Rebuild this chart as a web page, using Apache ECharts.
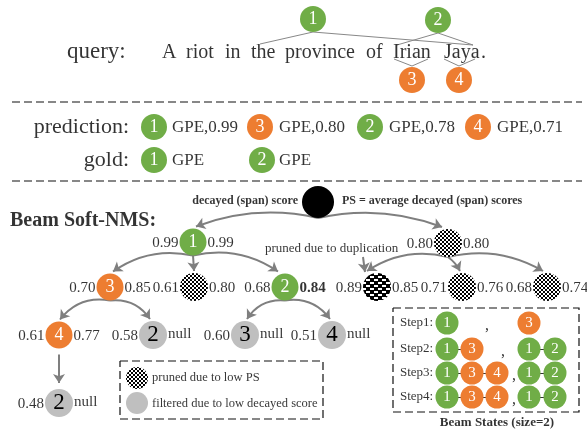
<!DOCTYPE html>
<html><head><meta charset="utf-8">
<script src="https://cdn.jsdelivr.net/npm/echarts@6/dist/echarts.min.js"></script>
<style>html,body{margin:0;padding:0;background:#fff}#c{width:587px;height:434px}</style>
</head><body><div id="c"></div>
<script>
// ---------------- DATA ----------------
const queryWords = ['A', 'riot', 'in', 'the', 'province', 'of', 'Irian', 'Jaya', '.'];
const spanIds = ['1', '2', '3', '4'];
const predIds = ['1', '3', '2', '4'];
const predType = 'GPE';
const predScores = [0.99, 0.80, 0.78, 0.71];
const goldIds = ['1', '2'];
const goldType = 'GPE';
// Beam Soft-NMS search tree
const treeIds   = ['', '1', '', '3', '', '2', '', '', '', '4', '2', '3', '4', '2'];
const treeKinds = ['root', 'span', 'pruned', 'span', 'pruned', 'span', 'dup', 'pruned', 'pruned', 'span', 'filtered', 'filtered', 'filtered', 'filtered'];
const treeLeft  = [null, 0.99, 0.80, 0.70, 0.61, 0.68, 0.89, 0.71, 0.68, 0.61, 0.58, 0.60, 0.51, 0.48];
const treeRight = [null, 0.99, 0.80, 0.85, 0.80, 0.84, 0.85, 0.76, 0.74, 0.77, 'null', 'null', 'null', 'null'];
const treeParent = [-1, 0, 0, 1, 1, 1, 2, 2, 2, 3, 3, 5, 5, 9];
const boldRight = [5];
const beamSteps = [
  [['1'], ['3']],
  [['1', '3'], ['1', '2']],
  [['1', '3', '4'], ['1', '2']],
  [['1', '3', '4'], ['1', '2']]
];

// ---------------- LAYOUT ----------------
const FONT = "'Liberation Serif','Times New Roman',serif";
const GREEN = '#70AD47', ORANGE = '#ED7D31', GREY = '#BFBFBF', LINK = '#7F7F7F';
const wordX = [162, 186, 225, 251, 285, 366, 393, 444, 481];
const spanPos = [[313, 19], [438, 20], [412, 80], [459, 80]];
const spanLinks = [
  [[260, 44], [313, 32], [473, 45]],
  [[397, 45], [438, 33], [473, 45]],
  [[394, 59], [412, 66], [428, 59]],
  [[444, 59], [459, 66], [475, 59]]
];
const predCircleX = [154, 260, 370, 478], predTextX = [172, 279, 389, 497];
const goldCircleX = [154, 262], goldTextX = [172, 279];
const treePos = [[318, 202], [193, 242], [448, 243], [110, 287], [194, 287], [285, 287], [377, 287], [462, 287], [547, 287], [59, 335], [153, 335], [245, 335], [332, 335], [59, 403]];
const treeCurve = [0, -0.15, 0.15, -0.22, 0, 0.22, -0.22, 0.12, 0.2, -0.3, 0.3, -0.3, 0.3, 0];
const treeEndDx = [0, 3, -6, 3, 0, -7, -10, -2, -4, 1, -3, 2, -2, 0];
const beamRowY = [323, 349, 373, 397];
const beam1X = [447, 472, 497], beam2X = [529, 555], commaX = [487, 503, 514, 514];

const spanColor = id => (id === '1' || id === '2') ? GREEN : ORANGE;

// pattern fill; the symbol path is drawn in a unit space scaled by d/2, so undo that scale
function makePattern(kind, d) {
  const c = document.createElement('canvas');
  const g = c.getContext('2d');
  if (kind === 'checker') {
    c.width = 4; c.height = 4;
    g.fillStyle = '#fff'; g.fillRect(0, 0, 4, 4);
    g.fillStyle = '#000'; g.fillRect(0, 0, 2, 2); g.fillRect(2, 2, 2, 2);
  } else {
    c.width = 8; c.height = 6;
    g.fillStyle = '#000'; g.fillRect(0, 0, 8, 6);
    g.fillStyle = '#fff'; g.fillRect(1, 1, 4, 2); g.fillRect(5, 4, 3, 2); g.fillRect(0, 4, 1, 2);
  }
  return { image: c, repeat: 'repeat', scaleX: 2 / d, scaleY: 2 / d };
}

const nodes = [], texts = [], edges = [], rules = [], thin = [], beamLinks = [];
function circle(x, y, d, color, txt, txtColor, fs) {
  nodes.push({ value: [x, y], symbolSize: d, itemStyle: { color: color, opacity: 1 },
    label: { show: !!txt, formatter: txt || '', color: txtColor || '#fff', fontSize: fs || 17 } });
}
function text(x, y, s, align, fs, bold) {
  texts.push({ value: [x, y], label: { formatter: s, align: align, fontSize: fs, fontWeight: bold ? 'bold' : 'normal' } });
}

// top: query
text(67, 52, 'query:', 'left', 23);
queryWords.forEach((w, i) => text(wordX[i], 53, w, 'left', 20));
spanLinks.forEach(p => thin.push({ coords: p }));
spanIds.forEach((id, i) => circle(spanPos[i][0], spanPos[i][1], 26, spanColor(id), id, '#fff', 18));

// separators
rules.push({ coords: [[12, 102], [582, 102]] });
rules.push({ coords: [[12, 181], [582, 181]] });

// prediction / gold
text(129, 127, 'prediction:', 'right', 22);
text(129, 160, 'gold:', 'right', 22);
predIds.forEach((id, i) => {
  circle(predCircleX[i], 127, 26, spanColor(id), id, '#fff', 18);
  text(predTextX[i], 128, predType + ',' + predScores[i].toFixed(2), 'left', 17);
});
goldIds.forEach((id, i) => {
  circle(goldCircleX[i], 160, 26, spanColor(id), id, '#fff', 18);
  text(goldTextX[i], 161, goldType, 'left', 17);
});

// Beam Soft-NMS tree
text(10, 221, 'Beam Soft-NMS:', 'left', 20, true);
text(298, 201, 'decayed (span) score', 'right', 12, true);
text(342, 201, 'PS = average decayed (span) scores', 'left', 12, true);
text(265, 249, 'pruned due to duplication', 'left', 13);
edges.push({ coords: [[363, 257], [365, 272]], lineStyle: { curveness: 0 } });

const diam = k => k === 'root' ? 32 : (k === 'span' ? 27 : 28);
treeKinds.forEach((k, i) => {
  const [x, y] = treePos[i];
  const d = diam(k), r = d / 2;
  if (treeParent[i] >= 0) {
    const p = treeParent[i];
    const [px, py] = treePos[p];
    const pr = diam(treeKinds[p]) / 2;
    const straight = treeCurve[i] === 0;
    const endY = straight && k === 'filtered' ? y - r - 6 : y - r - 2;
    edges.push({ coords: [[px, py + pr + (straight && k === 'filtered' ? 6 : 0)], [x + treeEndDx[i], endY]], lineStyle: { curveness: treeCurve[i] } });
  }
  let color, tc = '#fff', fs = 18;
  if (k === 'root') color = '#000';
  else if (k === 'pruned') color = makePattern('checker', d);
  else if (k === 'dup') color = makePattern('dup', d);
  else if (k === 'filtered') { color = GREY; tc = '#000'; fs = 23; }
  else color = spanColor(treeIds[i]);
  circle(x, y, d, color, (k === 'span' || k === 'filtered') ? treeIds[i] : '', tc, fs);
  if (treeLeft[i] !== null) text(x - r - 1, y + 1, treeLeft[i].toFixed(2), 'right', 15);
  if (treeRight[i] !== null) {
    const s = typeof treeRight[i] === 'number' ? treeRight[i].toFixed(2) : treeRight[i];
    text(x + r + 1, y + (typeof treeRight[i] === 'number' ? 1 : -1), s, 'left', 15, boldRight.includes(i));
  }
});

// legend box
rules.push({ coords: [[120, 361], [323, 361], [323, 419], [120, 419], [120, 361]] });
circle(137, 378, 22, makePattern('checker', 22), '');
text(152, 378, 'pruned due to low PS', 'left', 12.5);
circle(137, 403, 22, GREY, '');
text(152, 404, 'filtered due to low decayed score', 'left', 12.5);

// beam states box
rules.push({ coords: [[393, 308], [579, 308], [579, 412], [393, 412], [393, 308]] });
beamSteps.forEach((step, si) => {
  const y = beamRowY[si];
  text(400, y, 'Step' + (si + 1) + ':', 'left', 13);
  [beam1X, beam2X].forEach((xs, bi) => {
    const beam = step[bi];
    for (let j = 1; j < beam.length; j++) beamLinks.push({ coords: [[xs[j - 1], y], [xs[j], y]] });
    beam.forEach((id, j) => circle(xs[j], y, 23, spanColor(id), id, '#fff', 15));
  });
  text(commaX[si], y + 3, ',', 'center', 16);
});
text(497, 423, 'Beam States (size=2)', 'center', 13, true);

// ---------------- CHART ----------------
const chart = echarts.init(document.getElementById('c'), null, { renderer: 'canvas' });
chart.setOption({
  animation: false,
  backgroundColor: '#fff',
  grid: { left: 0, right: 0, top: 0, bottom: 0 },
  xAxis: { type: 'value', min: 0, max: 587, show: false },
  yAxis: { type: 'value', min: 0, max: 434, inverse: true, show: false },
  series: [
    { type: 'lines', coordinateSystem: 'cartesian2d', polyline: true, silent: true, z: 1,
      lineStyle: { color: '#111', width: 1.2, type: [8, 4], opacity: 1 }, data: rules },
    { type: 'lines', coordinateSystem: 'cartesian2d', polyline: true, silent: true, z: 1,
      lineStyle: { color: '#888', width: 1, opacity: 1 }, data: thin },
    { type: 'lines', coordinateSystem: 'cartesian2d', silent: true, z: 1,
      lineStyle: { color: '#333', width: 1, opacity: 1 }, data: beamLinks },
    { type: 'lines', coordinateSystem: 'cartesian2d', silent: true, z: 2,
      symbol: ['none', 'arrow'], symbolSize: 9,
      lineStyle: { color: LINK, width: 2, opacity: 1 }, data: edges },
    { type: 'scatter', silent: true, z: 3, data: nodes,
      itemStyle: { opacity: 1 },
      label: { show: true, position: 'inside', fontFamily: FONT } },
    { type: 'scatter', silent: true, z: 4, symbolSize: 0, data: texts,
      itemStyle: { color: 'transparent' },
      label: { show: true, position: 'inside', color: '#000', fontFamily: FONT, verticalAlign: 'middle' } }
  ]
});
</script></body></html>
